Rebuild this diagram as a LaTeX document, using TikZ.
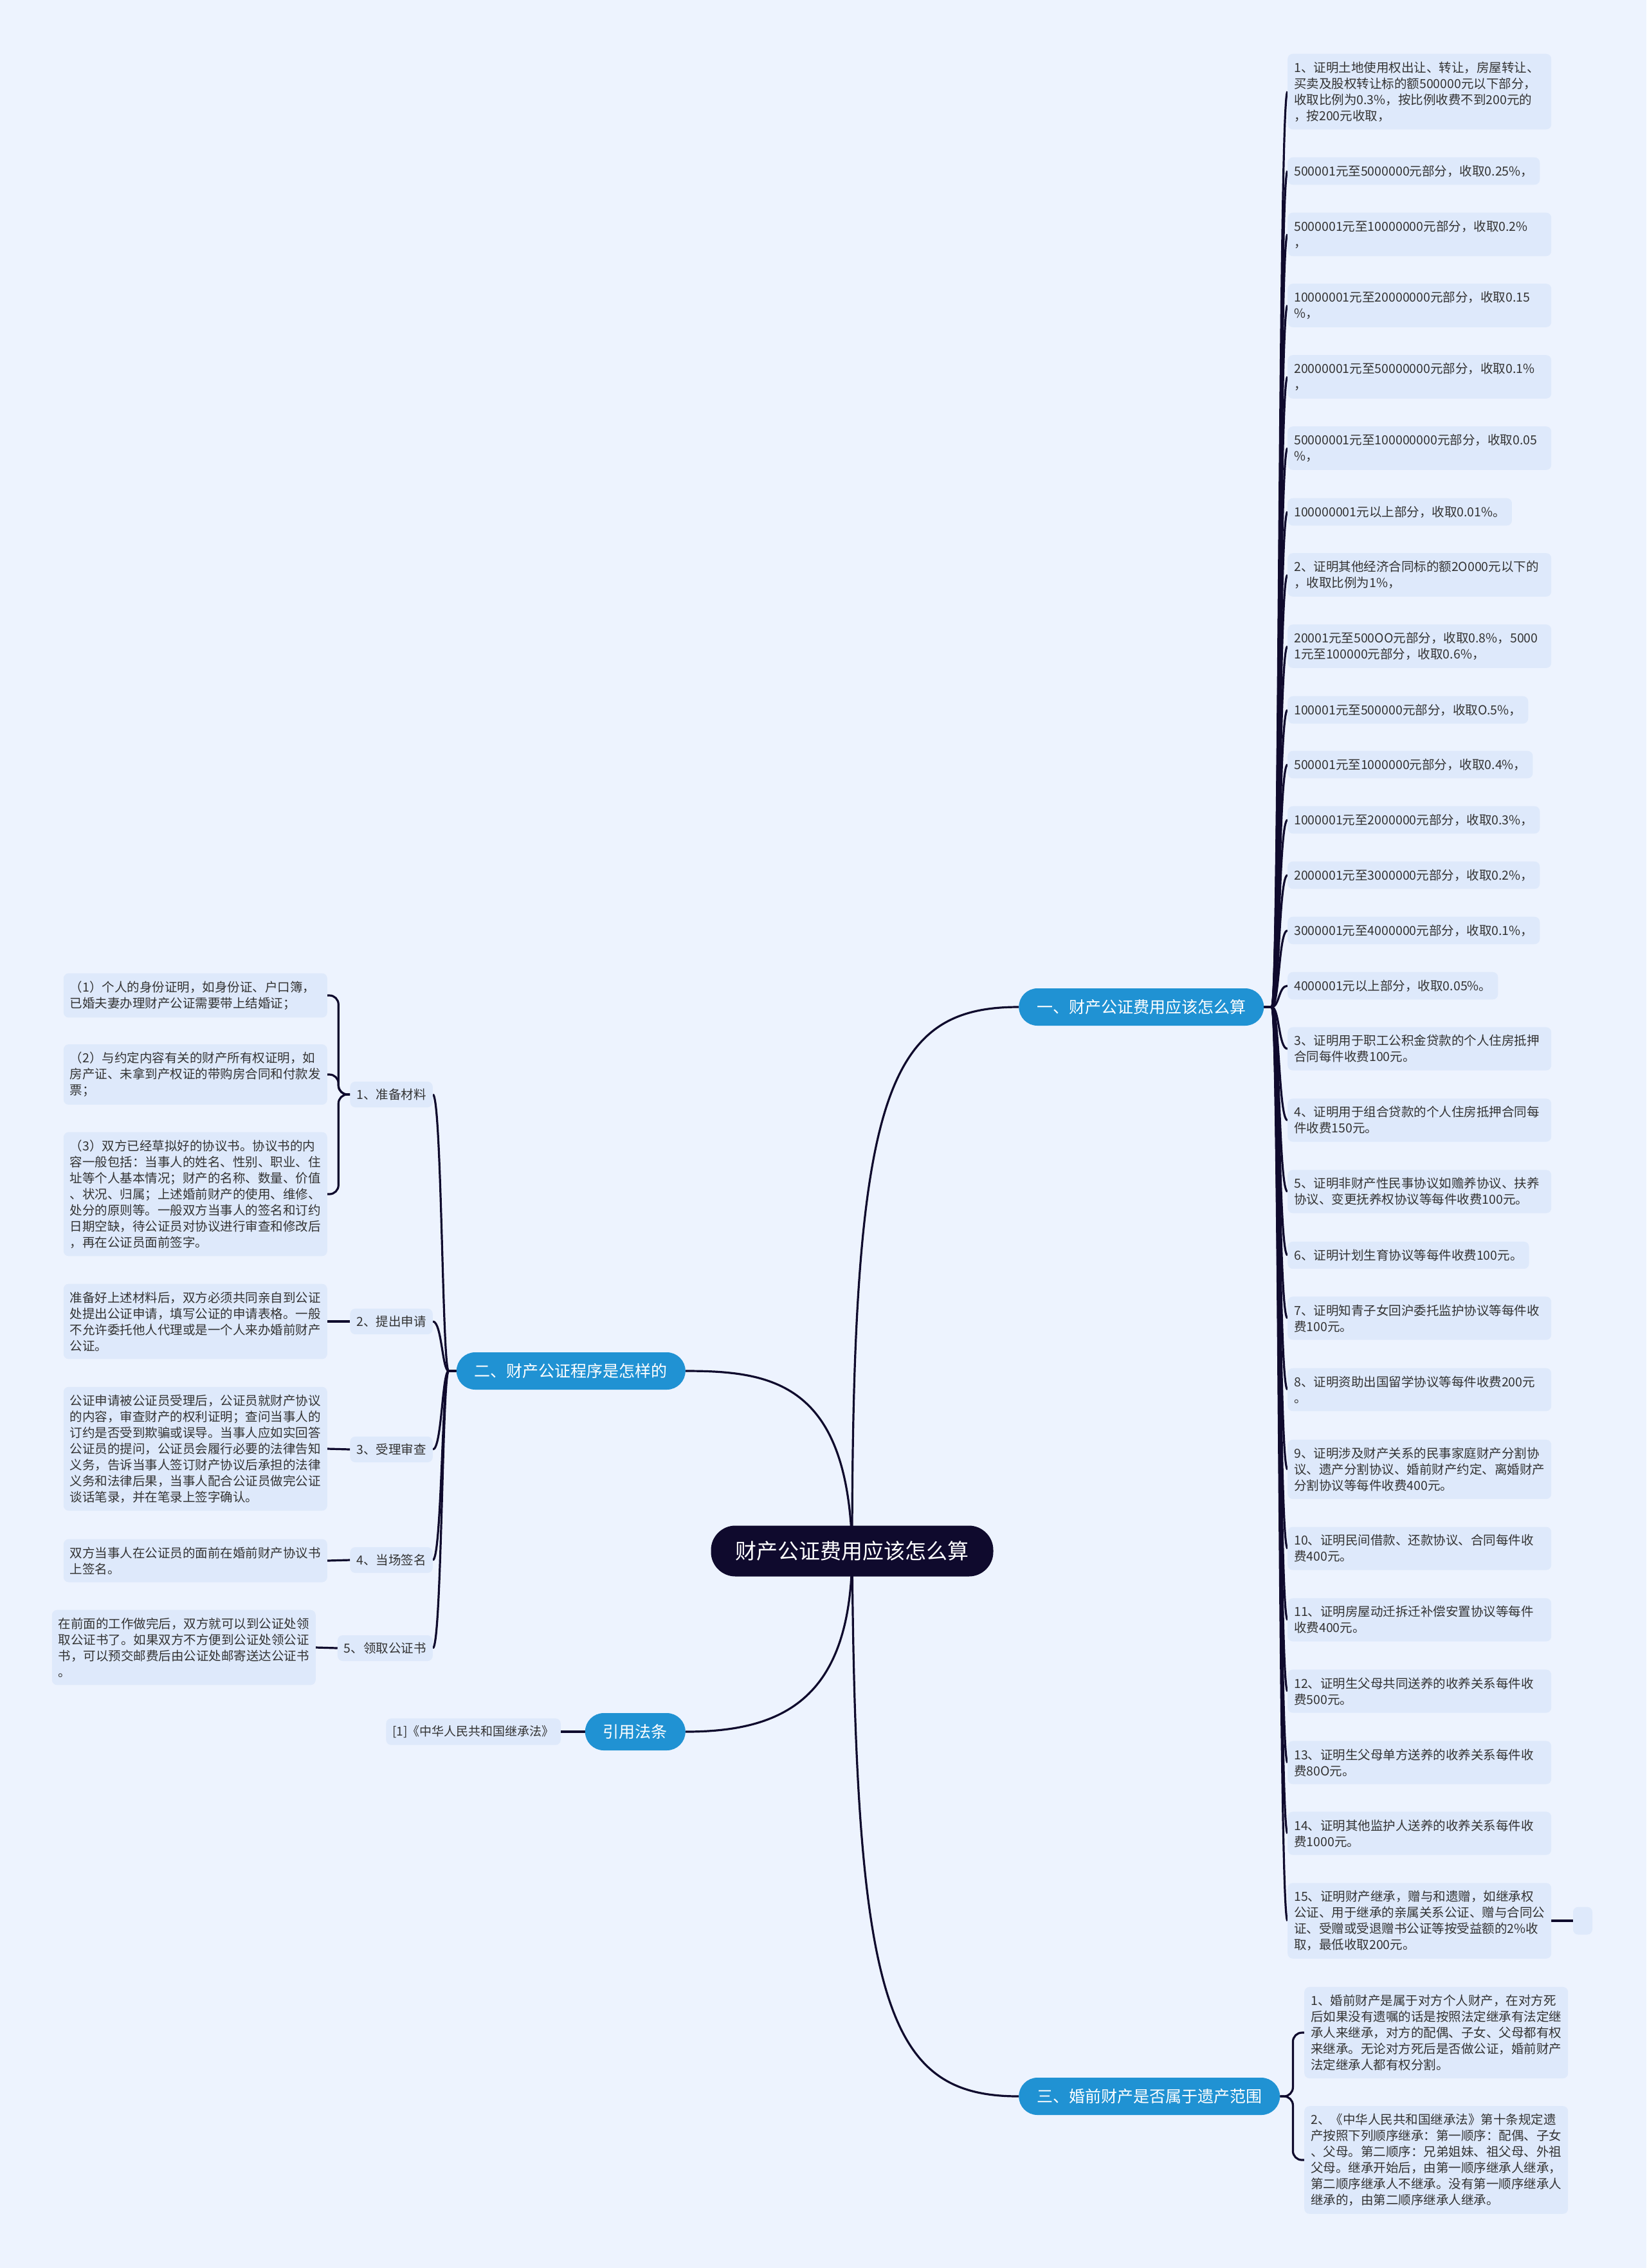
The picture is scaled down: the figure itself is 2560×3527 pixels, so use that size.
\documentclass[tikz,border=0pt]{standalone}
\usepackage{fontspec}
\setmainfont{Noto Sans CJK SC}
\usetikzlibrary{backgrounds}
\definecolor{bgc}{RGB}{237,243,254}
\definecolor{leafc}{RGB}{222,233,251}
\definecolor{brc}{RGB}{32,146,211}
\definecolor{rootc}{RGB}{15,10,45}
\definecolor{linec}{RGB}{15,10,45}
\definecolor{txt}{RGB}{51,51,51}
\begin{document}
\begin{tikzpicture}[x=1pt,y=-1pt,
  leaf/.style={fill=leafc, rounded corners=8pt, inner xsep=10pt, inner ysep=12pt, align=left, text=txt, font=\fontsize{19.5}{25}\selectfont},
  leafw/.style={leaf, text width=390pt},
  sub/.style={fill=leafc, rounded corners=8pt, inner xsep=10pt, inner ysep=11pt, text=txt, font=\fontsize{19.5}{25}\selectfont},
  br/.style={fill=brc, rounded corners=29pt, inner xsep=28pt, inner ysep=0pt, minimum height=58pt, text=white, font=\fontsize{25}{30}\selectfont},
  rootn/.style={fill=rootc, rounded corners=38pt, inner xsep=38pt, inner ysep=0pt, minimum height=79pt, text=white, font=\fontsize{33}{40}\selectfont},
  conn/.style={draw=linec, line width=3.2pt}]
\useasboundingbox (0,0) rectangle (2560,3527);

% root and branches
\node[rootn] (root) at (1325,2412) {财产公证费用应该怎么算};
\node[br, anchor=west] (b1) at (1584,1566) {一、财产公证费用应该怎么算};
\node[br, anchor=east] (b2) at (1066,2132) {二、财产公证程序是怎样的};
\node[br, anchor=east] (yin) at (1066,2693) {引用法条};
\node[br, anchor=west] (b3) at (1584,3260) {三、婚前财产是否属于遗产范围};

% branch 1 leaves
\node[leafw, anchor=west] (r1) at (2002,142.5) {1、证明土地使用权出让、转让，房屋转让、\\买卖及股权转让标的额500000元以下部分，\\收取比例为0.3\%，按比例收费不到200元的\\，按200元收取，};
\node[leaf, anchor=west] (r2) at (2002,266) {500001元至5000000元部分，收取0.25\%，};
\node[leafw, anchor=west] (r3) at (2002,364.5) {5000001元至10000000元部分，收取0.2\%\\，};
\node[leafw, anchor=west] (r4) at (2002,475) {10000001元至20000000元部分，收取0.15\\\%，};
\node[leafw, anchor=west] (r5) at (2002,586) {20000001元至50000000元部分，收取0.1\%\\，};
\node[leafw, anchor=west] (r6) at (2002,697) {50000001元至100000000元部分，收取0.05\\\%，};
\node[leaf, anchor=west] (r7) at (2002,796) {100000001元以上部分，收取0.01\%。};
\node[leafw, anchor=west] (r8) at (2002,894) {2、证明其他经济合同标的额2O000元以下的\\，收取比例为1\%，};
\node[leafw, anchor=west] (r9) at (2002,1005) {20001元至500OO元部分，收取0.8\%，5000\\1元至100000元部分，收取0.6\%，};
\node[leaf, anchor=west] (r10) at (2002,1104) {100001元至500000元部分，收取O.5\%，};
\node[leaf, anchor=west] (r11) at (2002,1189) {500001元至1000000元部分，收取0.4\%，};
\node[leaf, anchor=west] (r12) at (2002,1275) {1000001元至2000000元部分，收取0.3\%，};
\node[leaf, anchor=west] (r13) at (2002,1361) {2000001元至3000000元部分，收取0.2\%，};
\node[leaf, anchor=west] (r14) at (2002,1447) {3000001元至4000000元部分，收取0.1\%，};
\node[leaf, anchor=west] (r15) at (2002,1533) {4000001元以上部分，收取0.05\%。};
\node[leafw, anchor=west] (r16) at (2002,1631) {3、证明用于职工公积金贷款的个人住房抵押\\合同每件收费100元。};
\node[leafw, anchor=west] (r17) at (2002,1742) {4、证明用于组合贷款的个人住房抵押合同每\\件收费150元。};
\node[leafw, anchor=west] (r18) at (2002,1853) {5、证明非财产性民事协议如赡养协议、扶养\\协议、变更抚养权协议等每件收费100元。};
\node[leaf, anchor=west] (r19) at (2002,1952) {6、证明计划生育协议等每件收费100元。};
\node[leafw, anchor=west] (r20) at (2002,2050) {7、证明知青子女回沪委托监护协议等每件收\\费100元。};
\node[leafw, anchor=west] (r21) at (2002,2161) {8、证明资助出国留学协议等每件收费200元\\。};
\node[leafw, anchor=west] (r22) at (2002,2285) {9、证明涉及财产关系的民事家庭财产分割协\\议、遗产分割协议、婚前财产约定、离婚财产\\分割协议等每件收费400元。};
\node[leafw, anchor=west] (r23) at (2002,2408) {10、证明民间借款、还款协议、合同每件收\\费400元。};
\node[leafw, anchor=west] (r24) at (2002,2519) {11、证明房屋动迁拆迁补偿安置协议等每件\\收费400元。};
\node[leafw, anchor=west] (r25) at (2002,2630) {12、证明生父母共同送养的收养关系每件收\\费500元。};
\node[leafw, anchor=west] (r26) at (2002,2741) {13、证明生父母单方送养的收养关系每件收\\费80O元。};
\node[leafw, anchor=west] (r27) at (2002,2851) {14、证明其他监护人送养的收养关系每件收\\费1000元。};
\node[leafw, anchor=west] (r28) at (2002,2987) {15、证明财产继承，赠与和遗赠，如继承权\\公证、用于继承的亲属关系公证、赠与合同公\\证、受赠或受退赠书公证等按受益额的2\%收\\取，最低收取200元。};
\node[fill=leafc, rounded corners=8pt, minimum width=30pt, minimum height=43pt, inner sep=0pt] (e1) at (2461,2987) {};

% branch 2 sub nodes
\node[sub, anchor=east] (s1) at (673,1702) {1、准备材料};
\node[sub, anchor=east] (s2) at (673,2055) {2、提出申请};
\node[sub, anchor=east] (s3) at (673,2254) {3、受理审查};
\node[sub, anchor=east] (s4) at (673,2426) {4、当场签名};
\node[sub, anchor=east] (s5) at (673,2563) {5、领取公证书};

\node[leafw, anchor=east] (l1) at (509,1548) {（1）个人的身份证明，如身份证、户口簿，\\已婚夫妻办理财产公证需要带上结婚证；};
\node[leafw, anchor=east] (l2) at (509,1671) {（2）与约定内容有关的财产所有权证明，如\\房产证、未拿到产权证的带购房合同和付款发\\票；};
\node[leafw, anchor=east] (l3) at (509,1857) {（3）双方已经草拟好的协议书。协议书的内\\容一般包括：当事人的姓名、性别、职业、住\\址等个人基本情况；财产的名称、数量、价值\\、状况、归属；上述婚前财产的使用、维修、\\处分的原则等。一般双方当事人的签名和订约\\日期空缺，待公证员对协议进行审查和修改后\\，再在公证员面前签字。};
\node[leafw, anchor=east] (l4) at (509,2055) {准备好上述材料后，双方必须共同亲自到公证\\处提出公证申请，填写公证的申请表格。一般\\不允许委托他人代理或是一个人来办婚前财产\\公证。};
\node[leafw, anchor=east] (l5) at (509,2253) {公证申请被公证员受理后，公证员就财产协议\\的内容，审查财产的权利证明；查问当事人的\\订约是否受到欺骗或误导。当事人应如实回答\\公证员的提问，公证员会履行必要的法律告知\\义务，告诉当事人签订财产协议后承担的法律\\义务和法律后果，当事人配合公证员做完公证\\谈话笔录，并在笔录上签字确认。};
\node[leafw, anchor=east] (l6) at (509,2427) {双方当事人在公证员的面前在婚前财产协议书\\上签名。};
\node[leafw, anchor=east] (l7) at (491,2562) {在前面的工作做完后，双方就可以到公证处领\\取公证书了。如果双方不方便到公证处领公证\\书，可以预交邮费后由公证处邮寄送达公证书\\。};

% cite
\node[leaf, anchor=east, inner ysep=11pt, font=\fontsize{19}{24}\selectfont] (cite) at (872,2693) {\relax[1]《中华人民共和国继承法》};

% branch 3 leaves
\node[leafw, anchor=west] (t1) at (2028,3161) {1、婚前财产是属于对方个人财产，在对方死\\后如果没有遗嘱的话是按照法定继承有法定继\\承人来继承，对方的配偶、子女、父母都有权\\来继承。无论对方死后是否做公证，婚前财产\\法定继承人都有权分割。};
\node[leafw, anchor=west] (t2) at (2028,3359) {2、《中华人民共和国继承法》第十条规定遗\\产按照下列顺序继承：第一顺序：配偶、子女\\、父母。第二顺序：兄弟姐妹、祖父母、外祖\\父母。继承开始后，由第一顺序继承人继承，\\第二顺序继承人不继承。没有第一顺序继承人\\继承的，由第二顺序继承人继承。};

\begin{scope}[on background layer]
\fill[bgc] (0,0) rectangle (2560,3527);
% root to branches
\draw[conn] (root.center) .. controls (1325,1700) and (1380,1566) .. (b1.west);
\draw[conn] (root.center) .. controls (1320,2150) and (1200,2132) .. (b2.east);
\draw[conn] (root.center) .. controls (1325,2640) and (1220,2693) .. (yin.east);
\draw[conn] (root.center) .. controls (1330,3120) and (1380,3260) .. (b3.west);
% branch 1 to leaves
\foreach \i in {1,...,28} {
  \draw[conn] (b1.east) -- ++(12,0) .. controls +(12,0) and +(-14,0) .. (r\i.west);
}
\draw[conn] (r28.east) -- (e1.west);
% branch 2 to sub nodes
\foreach \i in {1,...,5} {
  \draw[conn] (b2.west) -- ++(-12,0) .. controls +(-10,0) and +(14,0) .. (s\i.east);
}
\foreach \i in {1,2,3} {
  \draw[conn, rounded corners=14pt] (s1.west) -- ++(-18,0) |- (l\i.east);
}
\draw[conn] (l4.east) -- (s2.west);
\draw[conn] (l5.east) -- (s3.west);
\draw[conn] (l6.east) -- (s4.west);
\draw[conn] (l7.east) -- (s5.west);
\draw[conn] (cite.east) -- (yin.west);
% branch 3 bracket
\foreach \i in {1,2} {
  \draw[conn, rounded corners=14pt] (b3.east) -- ++(20,0) |- (t\i.west);
}
\end{scope}
\end{tikzpicture}
\end{document}
